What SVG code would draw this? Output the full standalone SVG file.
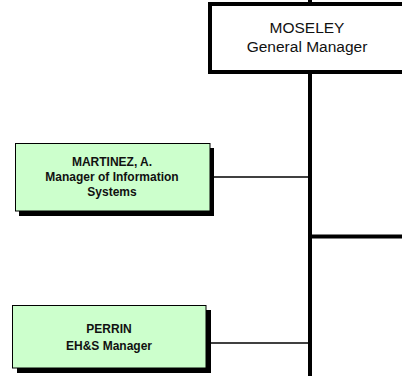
<svg xmlns="http://www.w3.org/2000/svg" width="402" height="376" viewBox="0 0 402 376">
<style>
.t{font-family:"Liberation Sans",Arial,sans-serif;fill:#111;text-anchor:middle}
.big{font-size:15.5px}
.sm{font-size:12px;font-weight:bold}
.box{fill:#CCFFCC;stroke:#000;stroke-width:1}
.shadow{fill:#000}
.thick{stroke:#000;stroke-width:4;fill:none}
.thin{stroke:#000;stroke-width:1.3;fill:none}
</style>
<rect width="402" height="376" fill="#fff"/>
<g id="connectors">
<line class="thick" x1="310" y1="0" x2="310" y2="376"/>
<line class="thick" x1="310" y1="236.5" x2="402" y2="236.5"/>
<line class="thin" x1="210" y1="177" x2="310" y2="177"/>
<line class="thin" x1="206" y1="343" x2="310" y2="343"/>
</g>
<g id="moseley">
<rect x="210" y="4" width="200" height="68" fill="#fff" stroke="#000" stroke-width="4"/>
<text class="t big" x="307" y="33">MOSELEY</text>
<text class="t big" x="307" y="52">General Manager</text>
</g>
<g id="martinez">
<rect class="shadow" x="19" y="148" width="195" height="68"/>
<rect class="box" x="15.5" y="143.5" width="194.5" height="67.5"/>
<text class="t sm" x="112" y="166">MARTINEZ, A.</text>
<text class="t sm" x="112" y="181">Manager of Information</text>
<text class="t sm" x="112" y="196">Systems</text>
</g>
<g id="perrin">
<rect class="shadow" x="17" y="310" width="194" height="63"/>
<rect class="box" x="12.5" y="305.5" width="193.5" height="62.5"/>
<text class="t sm" x="109" y="333">PERRIN</text>
<text class="t sm" x="109" y="350">EH&amp;S Manager</text>
</g>
</svg>
